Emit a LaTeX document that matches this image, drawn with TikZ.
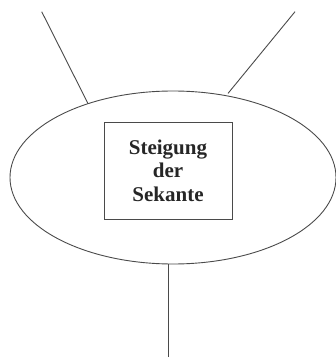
\documentclass[tikz,border=0pt]{standalone}
\usepackage{fontspec}
\setmainfont{Liberation Serif}
\usetikzlibrary{shapes.geometric}
\definecolor{ink}{HTML}{4A4A4A}
\definecolor{txt}{HTML}{262626}
\tikzset{
  conn/.style={draw=ink, line width=0.9pt},
  bubble/.style={ellipse, draw=ink, line width=0.9pt, inner sep=0pt, outer sep=0pt},
  labelbox/.style={draw=ink, line width=0.9pt, inner sep=0pt, outer sep=0pt, align=center,
    text=txt, font=\bfseries\fontsize{21}{23.5}\selectfont}
}
\begin{document}
\begin{tikzpicture}[x=1pt,y=-1pt]
\useasboundingbox (0,0) rectangle (336,358);
\node[bubble, minimum width=326pt, minimum height=173pt] (ell) at (173,177.5) {};
\node[labelbox, minimum width=128pt, minimum height=97pt] (box) at (168,170.5) {Steigung\\der\\Sekante};
\coordinate (tl) at (41.7,11.7);
\coordinate (tr) at (295,11.7);
\coordinate (bot) at (168,357);
\draw[conn] (tl) -- (ell.139);
\draw[conn, shorten >=3pt] (tr) -- (ell.57);
\draw[conn] (bot) -- (bot |- ell.south);
\end{tikzpicture}
\end{document}
